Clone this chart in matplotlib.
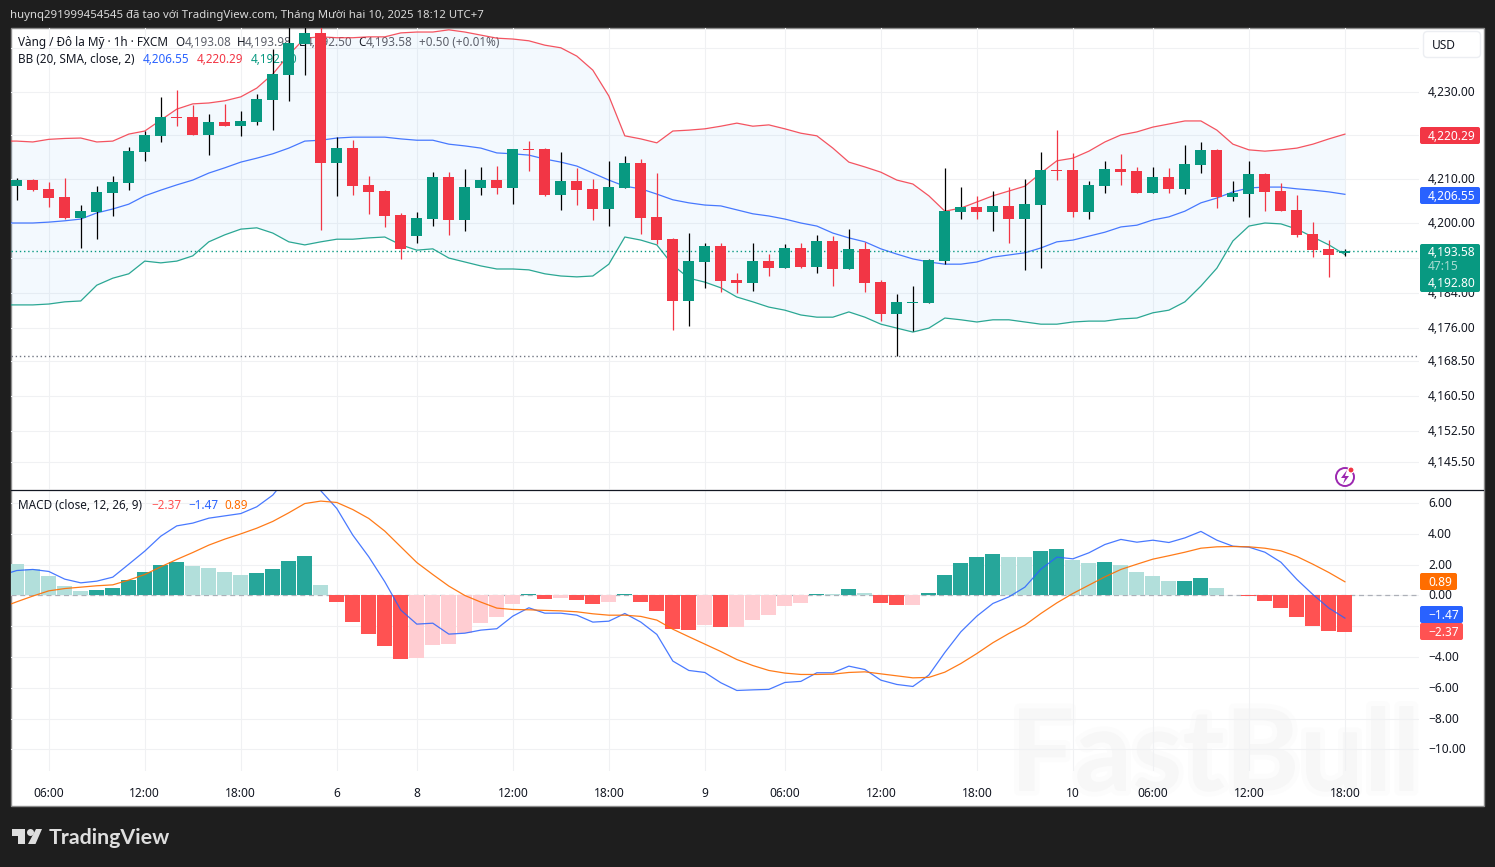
import numpy as np
import matplotlib
matplotlib.use('Agg')
import matplotlib.pyplot as plt
import matplotlib.patheffects as pe
from matplotlib.lines import Line2D
from matplotlib.patches import Circle, FancyBboxPatch, Polygon, Rectangle
from matplotlib.transforms import Affine2D, ScaledTranslation

W, H = 1495, 867

# one hourly candle per entry
opens = [4208.4, 4209.8, 4207.8, 4205.9, 4201.1, 4202.5, 4206.8, 4209.1, 4216.2, 4219.9, 4224.2, 4224.2,
         4220.1, 4223.1, 4222.1, 4223.1, 4228.1, 4233.8, 4240.9, 4243.4, 4213.7, 4217.1, 4208.7, 4207.3,
         4201.8, 4197.0, 4200.9, 4210.5, 4200.7, 4208.0, 4209.8, 4208.0, 4216.9, 4216.9, 4206.4, 4209.6,
         4207.8, 4203.2, 4208.0, 4213.7, 4201.4, 4196.3, 4182.2, 4191.1, 4194.7, 4187.0, 4186.3, 4191.3,
         4189.7, 4194.3, 4190.0, 4195.9, 4189.5, 4194.1, 4186.5, 4179.2, 4181.7, 4181.7, 4191.3, 4202.5,
         4203.7, 4202.5, 4203.9, 4200.9, 4204.1, 4212.1, 4212.1, 4202.5, 4208.4, 4212.3, 4211.9, 4206.8,
         4210.5, 4207.8, 4213.2, 4216.7, 4205.9, 4206.6, 4211.2, 4207.3, 4203.0, 4197.5, 4194.1, 4193.08]
highs = [4210.3, 4210.0, 4209.4, 4210.3, 4204.1, 4208.4, 4210.7, 4217.4, 4221.0, 4228.8, 4230.4, 4226.9,
         4224.9, 4227.2, 4225.6, 4229.5, 4239.7, 4245.4, 4245.4, 4245.4, 4219.6, 4218.9, 4210.7, 4207.5,
         4202.3, 4202.5, 4211.6, 4211.6, 4212.3, 4212.8, 4213.0, 4216.9, 4218.7, 4217.1, 4216.2, 4212.6,
         4210.0, 4214.2, 4215.3, 4214.6, 4211.4, 4196.6, 4197.7, 4195.4, 4195.4, 4188.6, 4195.4, 4192.9,
         4195.2, 4195.4, 4197.3, 4197.0, 4198.6, 4195.7, 4187.0, 4183.8, 4185.6, 4191.8, 4212.6, 4208.2,
         4206.2, 4207.3, 4208.2, 4210.0, 4216.2, 4221.2, 4216.0, 4209.6, 4214.2, 4215.8, 4212.8, 4212.8,
         4212.6, 4217.8, 4218.5, 4216.9, 4209.6, 4214.2, 4211.4, 4209.1, 4206.4, 4200.2, 4196.1, 4193.98]
lows = [4205.3, 4207.3, 4203.7, 4200.9, 4194.3, 4196.3, 4201.6, 4207.5, 4214.2, 4218.5, 4222.1, 4220.1,
        4215.5, 4222.1, 4219.9, 4222.4, 4221.2, 4227.9, 4233.8, 4198.4, 4206.2, 4206.4, 4202.1, 4199.1,
        4191.8, 4195.4, 4199.3, 4197.3, 4198.2, 4206.4, 4206.6, 4204.3, 4211.9, 4206.2, 4203.0, 4204.1,
        4200.7, 4199.3, 4208.0, 4197.5, 4195.2, 4175.6, 4176.5, 4185.2, 4184.2, 4184.0, 4184.5, 4187.9,
        4189.7, 4189.7, 4188.6, 4185.6, 4189.5, 4184.2, 4177.6, 4169.6, 4175.3, 4181.7, 4190.6, 4200.9,
        4200.9, 4198.2, 4195.4, 4189.3, 4189.7, 4209.8, 4201.4, 4200.9, 4206.8, 4208.7, 4206.8, 4206.8,
        4206.8, 4206.6, 4211.4, 4203.4, 4205.0, 4201.4, 4202.7, 4202.7, 4196.8, 4192.2, 4187.7, 4192.5]
closes = [4209.8, 4207.5, 4205.7, 4201.1, 4202.7, 4207.1, 4209.4, 4216.4, 4220.1, 4224.2, 4224.0, 4220.1,
          4223.1, 4222.1, 4223.3, 4228.3, 4234.0, 4241.1, 4243.4, 4213.7, 4217.1, 4208.4, 4207.1, 4201.6,
          4194.1, 4201.1, 4210.5, 4200.7, 4208.2, 4209.8, 4208.0, 4216.9, 4216.7, 4206.4, 4209.6, 4207.5,
          4203.2, 4208.2, 4213.7, 4201.1, 4196.1, 4182.2, 4191.3, 4194.7, 4186.8, 4186.3, 4191.3, 4189.7,
          4194.3, 4190.0, 4195.9, 4189.5, 4194.1, 4186.3, 4179.2, 4182.0, 4182.0, 4191.6, 4202.7, 4203.7,
          4202.5, 4203.9, 4200.9, 4204.3, 4212.1, 4211.9, 4202.5, 4208.7, 4212.3, 4211.6, 4206.8, 4210.5,
          4207.8, 4213.5, 4216.7, 4205.9, 4206.8, 4211.2, 4207.1, 4202.7, 4197.3, 4193.8, 4192.7, 4193.58]

# bollinger bands, first entry is the bar just off the left edge
bb_upper = [4218.7, 4218.7, 4218.5, 4219.1, 4219.3, 4219.4, 4218.5, 4218.7, 4220.3, 4221.0, 4223.5, 4226.0, 4227.2,
            4227.4, 4227.9, 4228.8, 4230.8, 4234.0, 4238.4, 4242.2, 4242.5, 4242.3, 4242.3, 4242.5, 4242.5,
            4243.4, 4243.6, 4243.6, 4244.1, 4243.6, 4242.9, 4242.2, 4242.0, 4241.6, 4240.6, 4240.0, 4238.1,
            4234.9, 4229.0, 4219.9, 4219.2, 4218.3, 4221.0, 4221.2, 4221.5, 4222.1, 4222.8, 4222.1, 4222.4,
            4221.5, 4220.5, 4219.9, 4217.1, 4213.9, 4212.8, 4211.6, 4209.8, 4208.9, 4206.2, 4202.7, 4203.4,
            4204.8, 4206.2, 4207.3, 4208.4, 4211.4, 4214.2, 4214.8, 4216.4, 4218.5, 4220.1, 4220.8, 4221.9,
            4222.6, 4223.3, 4223.3, 4221.2, 4218.0, 4216.7, 4216.4, 4216.7, 4217.1, 4218.0, 4219.2, 4220.29]
bb_basis = [4200.0, 4200.0, 4200.0, 4200.2, 4200.5, 4200.9, 4202.3, 4203.2, 4204.3, 4206.2, 4207.5, 4208.7, 4209.8,
            4211.4, 4212.6, 4213.9, 4214.8, 4215.8, 4217.1, 4218.7, 4218.9, 4219.4, 4219.6, 4219.6, 4219.6,
            4219.2, 4218.9, 4218.9, 4218.0, 4217.6, 4217.1, 4216.0, 4215.8, 4215.5, 4214.6, 4213.9, 4213.0,
            4211.4, 4209.8, 4208.4, 4207.8, 4206.6, 4205.3, 4204.6, 4204.1, 4203.9, 4203.0, 4202.1, 4201.6,
            4200.9, 4200.0, 4199.3, 4197.7, 4196.6, 4195.7, 4194.1, 4192.9, 4191.8, 4191.1, 4190.6, 4190.6,
            4191.1, 4192.2, 4192.7, 4193.2, 4194.3, 4195.7, 4196.1, 4197.0, 4197.9, 4199.1, 4199.5, 4200.7,
            4201.4, 4202.7, 4204.6, 4205.7, 4207.1, 4208.0, 4208.2, 4208.2, 4207.8, 4207.5, 4207.1, 4206.55]
bb_lower = [4181.3, 4181.3, 4181.3, 4181.5, 4182.0, 4182.2, 4185.8, 4187.4, 4188.4, 4191.3, 4190.9, 4191.3, 4192.5,
            4195.7, 4197.3, 4198.6, 4198.9, 4197.7, 4195.7, 4195.0, 4195.7, 4196.3, 4196.3, 4196.6, 4196.8,
            4195.0, 4193.8, 4194.1, 4192.0, 4191.1, 4190.2, 4189.5, 4189.5, 4189.3, 4188.4, 4187.9, 4187.7,
            4187.9, 4190.6, 4196.8, 4196.1, 4195.0, 4190.4, 4187.4, 4186.5, 4185.2, 4183.1, 4182.0, 4180.8,
            4180.1, 4179.0, 4178.5, 4178.5, 4179.7, 4178.5, 4176.9, 4176.0, 4175.1, 4176.0, 4178.3, 4177.9,
            4177.4, 4177.9, 4177.9, 4177.4, 4176.9, 4176.9, 4177.4, 4177.6, 4177.6, 4178.1, 4178.3, 4179.5,
            4180.1, 4182.0, 4185.6, 4189.7, 4195.9, 4199.3, 4200.0, 4199.8, 4198.6, 4196.8, 4195.0, 4192.8]

hist = [2.03, 1.69, 1.26, 0.61, 0.30, 0.35, 0.48, 1.00, 1.52, 1.97, 2.16, 1.90, 1.77, 1.52, 1.32, 1.45, 1.71,
        2.23, 2.55, 0.67, -0.43, -1.73, -2.51, -3.29, -4.13, -4.07, -3.23, -3.16, -2.45, -1.80, -1.41, -0.56,
        0.09, -0.24, -0.17, -0.30, -0.56, -0.43, 0.09, -0.43, -1.02, -2.19, -2.25, -1.93, -2.06, -2.05, -1.60,
        -1.28, -0.69, -0.50, 0.09, 0.08, 0.41, 0.15, -0.50, -0.63, -0.62, 0.15, 1.32, 2.10, 2.49, 2.68, 2.49,
        2.48, 2.88, 3.00, 2.29, 2.10, 2.16, 1.97, 1.52, 1.26, 0.93, 0.94, 1.13, 0.48, 0.02, -0.04, -0.37,
        -0.82, -1.41, -1.99, -2.32, -2.37]
macd = [1.30, 1.62, 1.69, 1.56, 1.06, 0.82, 0.93, 1.19, 2.03, 2.88, 3.85, 4.52, 4.70, 5.02, 5.17, 5.32, 5.76, 6.52,
        7.80, 8.30, 6.80, 5.65, 3.92, 2.51, 0.89, -0.95, -1.86, -1.80, -2.51, -2.45, -2.25, -2.16, -1.34, -0.80,
        -1.15, -1.15, -1.28, -1.73, -1.67, -1.17, -1.73, -2.53, -4.26, -4.87, -5.00, -5.67, -6.17, -6.13, -6.10,
        -5.65, -5.58, -5.02, -5.02, -4.59, -4.81, -5.50, -5.78, -5.91, -5.17, -3.70, -2.36, -1.34, -0.52, -0.09,
        0.54, 1.71, 2.49, 2.38, 2.77, 3.31, 3.64, 3.46, 3.59, 3.44, 3.74, 4.16, 3.59, 3.20, 3.14, 2.81, 2.16,
        1.04, 0.06, -0.82, -1.47]
signal = [-0.80, -0.41, -0.04, 0.30, 0.45, 0.54, 0.63, 0.69, 1.00, 1.36, 1.86, 2.34, 2.79, 3.27, 3.66, 4.00, 4.37,
          4.81, 5.37, 5.97, 6.13, 6.04, 5.58, 5.00, 4.18, 3.16, 2.14, 1.36, 0.61, 0.00, -0.43, -0.82, -0.91, -0.93,
          -0.97, -1.00, -1.06, -1.19, -1.28, -1.28, -1.36, -1.60, -2.19, -2.68, -3.16, -3.64, -4.16, -4.55, -4.87,
          -5.04, -5.13, -5.13, -5.11, -5.00, -4.96, -5.09, -5.22, -5.35, -5.32, -4.98, -4.42, -3.77, -3.07, -2.47,
          -1.93, -1.17, -0.48, 0.13, 0.67, 1.21, 1.69, 2.03, 2.36, 2.58, 2.81, 3.07, 3.16, 3.18, 3.16, 3.07, 2.90,
          2.53, 2.03, 1.49, 0.89]

price_ticks = [4145.5, 4152.5, 4160.5, 4168.5, 4176, 4184, 4192, 4200, 4210, 4220, 4230, 4240]
macd_ticks = [-10, -8, -6, -4, -2, 0, 2, 4, 6]
time_bars = [2, 8, 14, 20, 25, 31, 37, 43, 48, 54, 60, 66, 71, 77, 83]
time_labels = ['06:00', '12:00', '18:00', '6', '8', '12:00', '18:00', '9', '06:00', '12:00', '18:00',
               '10', '06:00', '12:00', '18:00']

GREEN = '#089981'
RED = '#f23645'
BLUE = '#2962ff'
ORANGE = '#ff6d00'
GRID = '#f0f1f3'

plt.rcParams['font.family'] = ['Noto Sans', 'DejaVu Sans']
fig = plt.figure(figsize=(W / 100, H / 100), dpi=100, facecolor='#1e1e1e')
# screen pixels, y going down
px = Affine2D().scale(1, -1).translate(0, H)


def add_axes_px(left, top, right, bottom):
    ax = fig.add_axes([left / W, 1 - bottom / H, (right - left) / W, (bottom - top) / H])
    ax.patch.set_visible(False)
    for spine in ax.spines.values():
        spine.set_visible(False)
    ax.set_xlim(-0.36, 87.63)
    ax.set_xticks(time_bars)
    ax.grid(True, color=GRID, lw=0.8, zorder=0)
    ax.set_axisbelow(True)
    ax.tick_params(length=0, left=False, right=False, labelleft=False, labelright=True,
                   pad=6.5, labelsize=8.6, labelcolor='#131722')
    return ax


def raise_labels(ax):
    # price labels sit a pixel above their grid lines
    up_1px = ScaledTranslation(0, 1 / 100, fig.dpi_scale_trans)
    for tick_label in ax.get_yticklabels():
        tick_label.set_transform(tick_label.get_transform() + up_1px)


def label(x, y, text, color='#131722', size=8.6, weight='normal', zorder=1.5):
    return fig.text(x / W, 1 - (y + 0.8) / H, text, color=color, fontsize=size, fontweight=weight,
                    ha='left', va='center', zorder=zorder)


def pane_label(ax, x, y, text, color='#131722'):
    # inside the axes, so over the grid but under the candles
    ax.text(x / W, 1 - (y + 0.8) / H, text, color=color, fontsize=8.45, ha='left', va='center',
            transform=fig.transFigure, zorder=1.5)


def badge(y0, y1, lines, color, x1=1480):
    fig.add_artist(FancyBboxPatch((1421, y0 + 1), x1 - 1422, y1 - y0 - 2, boxstyle='round,pad=1,rounding_size=2',
                                  fc=color, ec='none', transform=px, zorder=10))
    for y, text, text_color in lines:
        label(1428, y, text, color=text_color, weight='bold', zorder=11)


# window
fig.add_artist(Rectangle((10.5, 27.5), 1473, 778.5, fc='white', ec='#8c8c8c', lw=1, transform=px, zorder=-5))

wm = label(1010, 757, 'FastBull', color='#f7f7f7', size=82, weight='bold', zorder=-4)
wm.set_family('Lato')
wm.set_path_effects([pe.withStroke(linewidth=7, foreground='#fcfcfc')])

# price pane
ax1 = add_axes_px(11, 28, 1419, 489)
ax1.set_ylim(4139.27, 4244.52)
ax1.set_yticks(price_ticks)
ax1.set_yticklabels([f'{t:,.2f}' for t in price_ticks])
ax1.yaxis.tick_right()
ax1.tick_params(labelbottom=False, bottom=False)
raise_labels(ax1)

band_x = np.arange(-1, len(closes))
ax1.fill_between(band_x, bb_upper, bb_lower, color='#2196f3', alpha=0.05, lw=0, zorder=1)
ax1.plot(band_x, bb_upper, color=RED, lw=0.9, alpha=0.85, zorder=2)
ax1.plot(band_x, bb_basis, color=BLUE, lw=0.9, alpha=0.85, zorder=2)
ax1.plot(band_x, bb_lower, color=GREEN, lw=0.9, alpha=0.85, zorder=2)
ax1.axhline(closes[-1], color=GREEN, ls=(0, (1, 2)), lw=1, zorder=2.5)
ax1.axhline(min(lows), color='#6f7480', ls=(0, (1, 2)), lw=1, zorder=2.5)

x = np.arange(len(closes))
o, h, l, c = map(np.array, (opens, highs, lows, closes))
up = c >= o
ax1.vlines(x[up], l[up], h[up], color='black', lw=0.9, zorder=3)
ax1.vlines(x[~up], l[~up], h[~up], color=RED, lw=0.9, zorder=3)
body = np.maximum(np.abs(c - o), 0.3)
ax1.bar(x, body, bottom=np.minimum(o, c), width=11 / 16, color=np.where(up, GREEN, RED), lw=0, zorder=4)

# legend sits under the candles
for px_x, text, color in [(18, 'Vàng / Đô la Mỹ · 1h · FXCM', '#131722'), (175, 'O', '#131722'),
                          (185, '4,193.08', '#5d606b'), (237, 'H', '#131722'), (245, '4,193.98', '#5d606b'),
                          (299, 'L', '#131722'), (306, '4,192.50', '#5d606b'), (358, 'C', '#131722'),
                          (366, '4,193.58', '#5d606b'), (419, '+0.50 (+0.01%)', '#5d606b')]:
    pane_label(ax1, px_x, 42, text, color)
for px_x, text, color in [(18, 'BB (20, SMA, close, 2)', '#131722'), (143, '4,206.55', BLUE),
                          (197, '4,220.29', RED), (251, '4,192.80', GREEN)]:
    pane_label(ax1, px_x, 59, text, color)

# macd pane
ax2 = add_axes_px(11, 490, 1419, 771)
ax2.set_ylim(-11.4, 6.85)
ax2.set_yticks(macd_ticks)
ax2.set_yticklabels([f'{t:.2f}'.replace('-', '\u2212') for t in macd_ticks])
ax2.yaxis.tick_right()
ax2.set_xticklabels(time_labels)
ax2.tick_params(axis='x', pad=11.7)
ax2.get_xticklabels()[4].set_fontweight('bold')
raise_labels(ax2)
ax2.axhline(0, color='#adb0b8', ls=(0, (4, 3)), lw=0.9, zorder=1)

hist_prev = [np.inf if hist[0] >= 0 else -np.inf] + hist[:-1]
hist_colors = []
for value, prev in zip(hist, hist_prev):
    if value >= 0:
        hist_colors.append('#26a69a' if value > prev else '#b2dfdb')
    else:
        hist_colors.append('#ff5252' if value < prev else '#ffcdd2')
ax2.bar(x, hist, width=15 / 16, color=hist_colors, lw=0, zorder=2)
ax2.plot(band_x, macd, color=BLUE, lw=0.9, alpha=0.85, zorder=3)
ax2.plot(band_x, signal, color=ORANGE, lw=0.9, alpha=0.9, zorder=3)

pane_label(ax2, 18, 505, 'MACD (close, 12, 26, 9)')
pane_label(ax2, 151, 505, '\u22122.37', '#ff5252')
pane_label(ax2, 188, 505, '\u22121.47', BLUE)
pane_label(ax2, 224, 505, '0.89', ORANGE)

fig.add_artist(Line2D([11, 1483], [489.5, 489.5], color='#131722', lw=0.9, transform=px, zorder=9))

# price scale badges
badge(127, 144, [(135.5, '4,220.29', 'white')], RED)
badge(187, 204, [(195.5, '4,206.55', 'white')], BLUE)
badge(244, 292, [(252, '4,193.58', 'white'), (266, '47:15', '#a9dcd2'), (283, '4,192.80', 'white')], GREEN)
badge(573, 590, [(581.5, '0.89', 'white')], ORANGE, x1=1457)
badge(606, 623, [(614.5, '\u22121.47', 'white')], BLUE, x1=1463)
badge(623, 640, [(631.5, '\u22122.37', 'white')], '#ff5252', x1=1463)

# currency button
fig.add_artist(FancyBboxPatch((1425, 33), 54, 23, boxstyle='round,pad=1.5,rounding_size=4',
                              fc='white', ec='#eceef2', lw=1, transform=px, zorder=10))
label(1432, 44.5, 'USD', zorder=11)

# lightning badge
fig.add_artist(Circle((1345, 477), 9, fc='white', ec='#9c27b0', lw=1.4, transform=px, zorder=8))
fig.add_artist(Polygon([(1347, 470), (1341, 478), (1345, 478), (1343, 484), (1349, 476), (1345, 476)],
                       fc='#9c27b0', ec='none', transform=px, zorder=8))
fig.add_artist(Circle((1351, 470), 3, fc='#f23645', ec='white', lw=0.8, transform=px, zorder=8))

# header and footer
label(10, 15, 'huynq291999454545 đã tạo với TradingView.com, Tháng Mười hai 10, 2025 18:12 UTC+7',
      color='#d9d9d9', size=8.2)
logo = '#dedede'
fig.add_artist(Polygon([(12, 829), (25, 829), (25, 844), (18, 844), (18, 836), (12, 836)], fc=logo, ec='none', transform=px))
fig.add_artist(Circle((30.5, 832.5), 3.5, fc=logo, ec='none', transform=px))
fig.add_artist(Polygon([(36, 829), (42, 829), (35.5, 844), (28, 844)], fc=logo, ec='none', transform=px))
tv = label(49, 837, 'TradingView', color=logo, size=15.4, weight='bold')
tv.set_family('Lato')

fig.savefig('out.png', dpi=100, facecolor=fig.get_facecolor())
plt.close(fig)
